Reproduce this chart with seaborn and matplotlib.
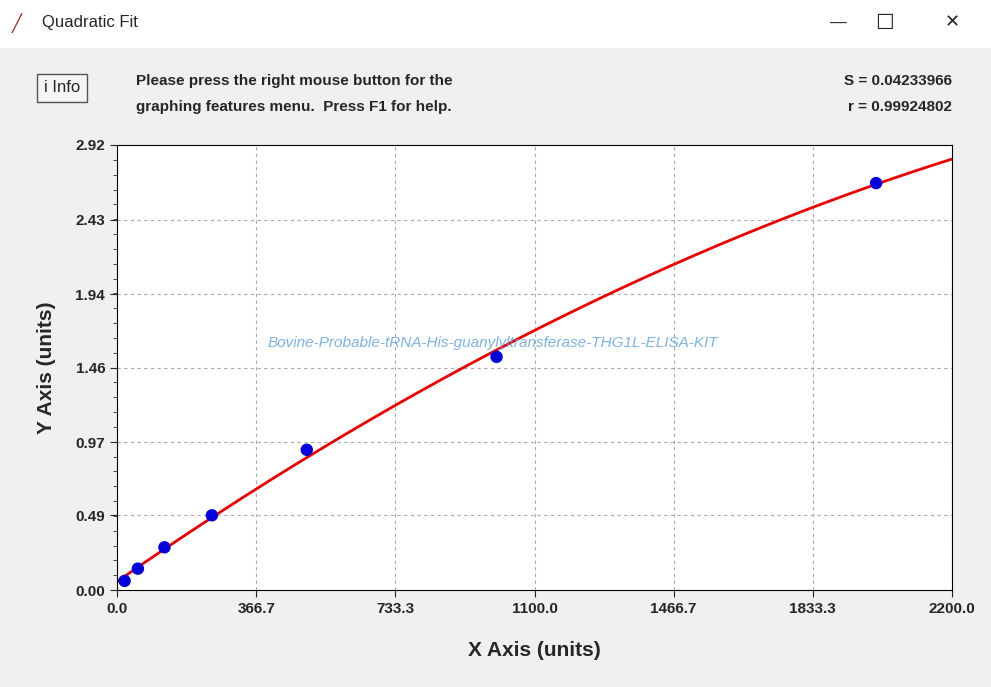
import numpy as np
import matplotlib
matplotlib.use("Agg")
import matplotlib.pyplot as plt
import seaborn as sns
from matplotlib.patches import Rectangle

# data
conc = [20, 55, 125, 250, 500, 1000, 2000]
od = [0.06, 0.14, 0.28, 0.49, 0.92, 1.53, 2.67]
x_ticks = [0.0, 366.7, 733.3, 1100.0, 1466.7, 1833.3, 2200.0]
y_ticks = [0.00, 0.49, 0.97, 1.46, 1.94, 2.43, 2.92]

sns.set_style("white")
plt.rcParams['font.family'] = ['Liberation Sans', 'DejaVu Sans']

fig = plt.figure(figsize=(9.91, 6.87), dpi=100)
fig.patch.set_facecolor("#f0f0f0")

# window title bar
fig.patches.append(Rectangle((0, 1 - 48/687), 1, 48/687, transform=fig.transFigure,
                             facecolor="white", edgecolor="none"))
fig.text(42/991, 1 - 23/687, "Quadratic Fit", fontsize=12, va="center")
fig.text(12/991, 1 - 23/687, "\u2571", fontsize=12, va="center", color="#b22222")
fig.text(830/991, 1 - 23/687, "\u2014", fontsize=12, va="center")
fig.text(875/991, 1 - 23/687, "\u2610", fontsize=15, va="center")
fig.text(945/991, 1 - 23/687, "\u2715", fontsize=13, va="center")

# info button and header text
fig.text(44/991, 1 - 88/687, "i Info", fontsize=12, va="center",
         bbox=dict(boxstyle="square,pad=0.4", fc="#f5f5f5", ec="#555555"))
fig.text(136/991, 1 - 81/687, "Please press the right mouse button for the",
         fontsize=11, fontweight="bold", va="center")
fig.text(136/991, 1 - 107/687, "graphing features menu.  Press F1 for help.",
         fontsize=11, fontweight="bold", va="center")
fig.text(952/991, 1 - 81/687, "S = 0.04233966", fontsize=11, fontweight="bold",
         va="center", ha="right")
fig.text(952/991, 1 - 107/687, "r = 0.99924802", fontsize=11, fontweight="bold",
         va="center", ha="right")

ax = fig.add_axes([117/991, 1 - 590/687, 835/991, 445/687])
ax.set_facecolor("white")

coef = np.polyfit(conc, od, 2)
xs = np.linspace(0, 2200, 200)
sns.lineplot(x=xs, y=np.polyval(coef, xs), color="#ee0000", lw=2, ax=ax)
sns.scatterplot(x=conc, y=od, color="#0000dd", s=80, edgecolor="none", zorder=5, ax=ax)

ax.set_xlim(0, 2200)
ax.set_ylim(0, 2.92)
ax.set_xticks(x_ticks)
ax.set_xticklabels([f"{v:.1f}" for v in x_ticks], fontsize=11, fontweight="bold")
ax.set_yticks(y_ticks)
ax.set_yticklabels([f"{v:.2f}" for v in y_ticks], fontsize=11, fontweight="bold")
ax.set_yticks(np.linspace(0, 2.92, 31), minor=True)
ax.tick_params(which="both", direction="out", left=True, bottom=True)
ax.tick_params(which="minor", length=3)
ax.tick_params(which="major", length=5)
ax.grid(True, linestyle=(0, (3, 3)), color="#aaaaaa", lw=0.8)
for s in ax.spines.values():
    s.set_color("black")
ax.set_xlabel("X Axis (units)", fontsize=15, fontweight="bold", labelpad=18)
ax.set_ylabel("Y Axis (units)", fontsize=15, fontweight="bold", labelpad=14)

ax.text(0.45, 0.555, "Bovine-Probable-tRNA-His-guanylyltransferase-THG1L-ELISA-KIT",
        transform=ax.transAxes, ha="center", va="center", fontsize=11,
        style="italic", color="#5aa0e0", alpha=0.8)

fig.savefig("out.png", dpi=100, facecolor=fig.get_facecolor())
